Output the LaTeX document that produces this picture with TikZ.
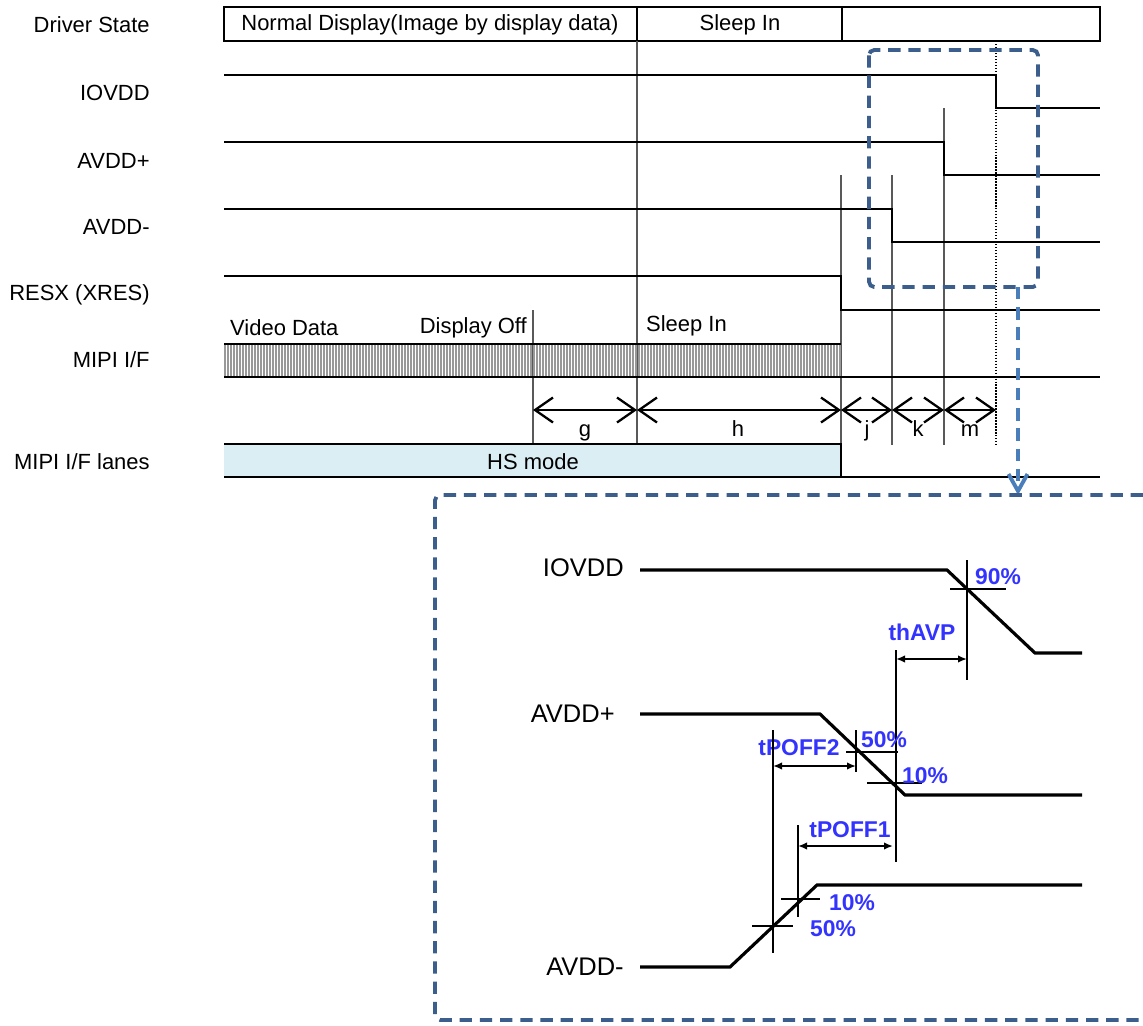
\documentclass[tikz,border=0pt]{standalone}
\usepackage{fontspec}
\setmainfont{Liberation Sans}
\usepackage{xcolor}
\usepackage{tikz}
\usetikzlibrary{arrows.meta}

\definecolor{zoomblue}{RGB}{59,94,140}
\definecolor{arrblue}{RGB}{74,126,187}
\definecolor{pctblue}{RGB}{51,51,255}
\definecolor{hsfill}{RGB}{218,238,243}

\begin{document}
\begin{tikzpicture}[
  x=0.02cm, y=-0.02cm,
  font=\fontsize{12.5}{15}\selectfont,
  sig/.style={line width=1.6pt},
  guide/.style={black!65, line width=1.5pt},
  dotguide/.style={black, line width=0.7pt, densely dotted},
  lbl/.style={anchor=east, inner sep=0pt},
  dim/.style={{Straight Barb[length=3.6mm,width=5mm]}-{Straight Barb[length=3.6mm,width=5mm]},
              line width=1.3pt},
  zoomline/.style={zoomblue, line width=2.2pt, dash pattern=on 7pt off 4.5pt,
                   rounded corners=3pt},
  wave/.style={line width=1.8pt},
  crossline/.style={line width=0.7pt},
  pct/.style={text=pctblue, font=\fontsize{13}{15}\selectfont\bfseries},
  meas/.style={{Latex[length=1.8mm,width=1.5mm]}-{Latex[length=1.8mm,width=1.5mm]},
               line width=1pt},
  big/.style={font=\fontsize{14.5}{17}\selectfont, anchor=east, inner sep=0pt}
]
  \useasboundingbox (0,0) rectangle (1143,1025);

  % --- signal names ---
  \node[lbl] (nDrv)  at (150,25)  {Driver State};
  \node[lbl] (nIO)   at (150,93)  {IOVDD};
  \node[lbl] (nAP)   at (150,161) {AVDD+};
  \node[lbl] (nAM)   at (150,227) {AVDD-};
  \node[lbl] (nRes)  at (150,295) {RESX (XRES)};
  \node[lbl] (nMipi) at (150,360) {MIPI I/F};
  \node[lbl] (nLane) at (150,462) {MIPI I/F lanes};

  % --- driver state row ---
  \draw[sig] (224,7) rectangle (1100,41);
  \draw[sig] (637,7) -- (637,41);
  \draw[sig] (842,7) -- (842,41);
  \node (sNorm)  at (430,25) {Normal Display(Image by display data)};
  \node (sSleep) at (740,25) {Sleep In};

  % --- timing guides ---
  \draw[guide] (637,41) -- (637,444);
  \draw[guide] (533,310) -- (533,444);
  \draw[guide] (841,175) -- (841,444);
  \draw[guide] (892,175) -- (892,445);
  \draw[guide] (944,108) -- (944,445);
  \draw[dotguide] (996,41) -- (996,445);

  % --- supply and reset rows ---
  \draw[sig] (224,75)  -- (996,75)  -- (996,108) -- (1100,108);
  \draw[sig] (224,142) -- (944,142) -- (944,175) -- (1100,175);
  \draw[sig] (224,209) -- (892,209) -- (892,242) -- (1100,242);
  \draw[sig] (224,276) -- (841,276) -- (841,310) -- (1100,310);

  % --- MIPI I/F row ---
  \foreach \x in {225,228,...,840}
    \draw[gray!80, line width=0.8pt] (\x,345) -- (\x,376);
  \draw[sig] (224,344) -- (841,344);
  \draw[sig] (224,377) -- (1100,377);
  \node[anchor=west]  (vid) at (224,328) {Video Data};
  \node[anchor=east]  (off) at (533,328) {Display Off};
  \node[anchor=west]  (slp) at (640,326) {Sleep In};

  % --- intervals ---
  \coordinate (t1) at (533,410);
  \coordinate (t2) at (637,410);
  \coordinate (t3) at (841,410);
  \coordinate (t4) at (892,410);
  \coordinate (t5) at (944,410);
  \coordinate (t6) at (996,410);
  \draw[dim] (t1) -- (t2);
  \draw[dim] (t2) -- (t3);
  \draw[dim] (t3) -- (t4);
  \draw[dim] (t4) -- (t5);
  \draw[dim] (t5) -- (t6);
  \node[anchor=base] (lg) at (585,436) {g};
  \node[anchor=base] (lh) at (738,436) {h};
  \node[anchor=base] (lj) at (867,436) {j};
  \node[anchor=base] (lk) at (918,436) {k};
  \node[anchor=base] (lm) at (970,436) {m};

  % --- MIPI I/F lanes row ---
  \fill[hsfill] (224,444) rectangle (841,477);
  \draw[sig] (224,444) -- (841,444) -- (841,477);
  \draw[sig] (224,477) -- (1100,477);
  \node (hs) at (533,462) {HS mode};

  % --- zoom frames ---
  \draw[zoomline] (869,50) rectangle (1038,287);
  \draw[arrblue, line width=2.2pt, dash pattern=on 7pt off 4.5pt,
        -{Straight Barb[length=3.4mm,width=3.8mm]}] (1018,287) -- (1018,495);
  \draw[zoomline] (1143,495) -- (435,495) -- (435,1020) -- (1143,1020);

  % --- detail: IOVDD ---
  \node[big] (iIO) at (624,568) {IOVDD};
  \draw[wave] (640,570) -- (947,570) -- (1035,653) -- (1082,653);
  \draw[crossline] (967,560) -- (967,680);
  \draw[crossline] (950,589) -- (1006,589);
  \node[pct] (p90) at (998,577) {90\%};
  \node[pct] (pAVP) at (922,632) {thAVP};
  \draw[crossline] (896,650) -- (896,862);
  \draw[meas] (896,659) -- (967,659);

  % --- detail: AVDD+ ---
  \node[big] (iAP) at (615,714) {AVDD+};
  \draw[wave] (640,714) -- (820,714) -- (905,795) -- (1082,795);
  \draw[crossline] (856,730) -- (856,772);
  \draw[crossline] (846,752) -- (898,752);
  \node[pct] (p50a) at (884,740) {50\%};
  \draw[crossline] (867,783) -- (922,783);
  \node[pct] (p10a) at (925,776) {10\%};
  \node[pct] (pOff2) at (799,748) {tPOFF2};
  \draw[crossline] (773,730) -- (773,953);
  \draw[meas] (773,766) -- (856,766);

  % --- detail: AVDD- ---
  \node[pct] (pOff1) at (850,830) {tPOFF1};
  \draw[crossline] (798,825) -- (798,917);
  \draw[meas] (798,846) -- (893,846);
  \node[big] (iAM) at (624,967) {AVDD-};
  \draw[wave] (640,967) -- (730,967) -- (817,885) -- (1082,885);
  \draw[crossline] (781,899) -- (820,899);
  \draw[crossline] (752,926) -- (793,926);
  \node[pct] (p10b) at (852,903) {10\%};
  \node[pct] (p50b) at (833,929) {50\%};
\end{tikzpicture}
\end{document}
